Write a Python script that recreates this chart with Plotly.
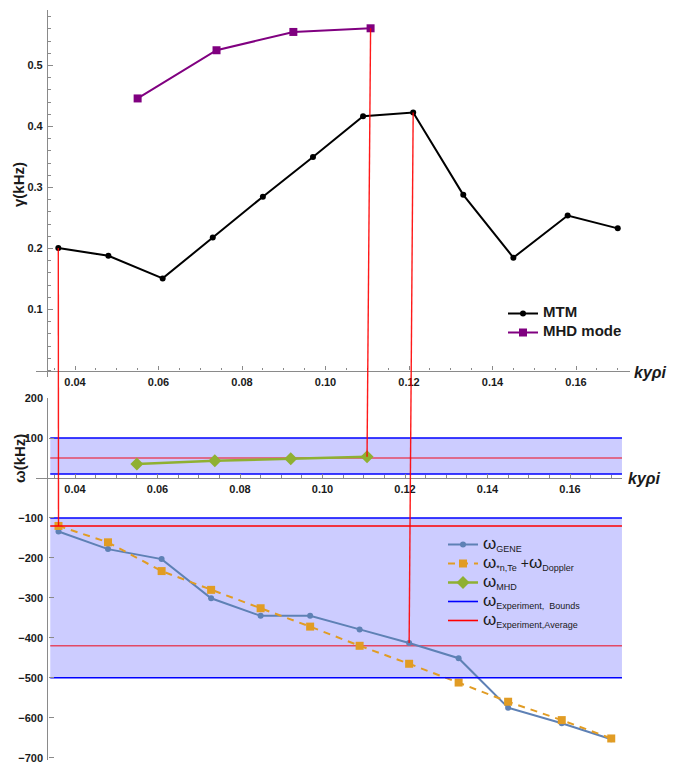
import plotly.graph_objects as go

W, H = 673, 762

# ---------------- data ----------------
ky_mtm = [0.036, 0.048, 0.061, 0.073, 0.085, 0.097, 0.109, 0.121, 0.133, 0.145, 0.158, 0.170]
gamma_mtm = [0.201, 0.188, 0.151, 0.218, 0.285, 0.350, 0.417, 0.423, 0.288, 0.185, 0.254, 0.233]
ky_mhd = [0.055, 0.0739, 0.0923, 0.1108]
gamma_mhd = [0.446, 0.525, 0.555, 0.561]

omega_gene = [-134, -178, -203, -301, -345, -345, -379, -413, -451, -575, -614, -654]
omega_dopp = [-120, -161, -233, -280, -326, -372, -420, -465, -512, -560, -606, -652]
omega_mhd = [35, 43, 48, 53]

exp_bounds = [(10, 100), (-500, -100)]
exp_avg_main = [-120]
exp_avg_other = [50, -420]
band_x = [0.034, 0.1726]

top_xticks = [0.04, 0.06, 0.08, 0.10, 0.12, 0.14, 0.16]
top_yticks = [0.1, 0.2, 0.3, 0.4, 0.5]
bot_yticks = [200, 100, -100, -200, -300, -400, -500, -600, -700]

# ---------------- geometry ----------------
def px_x(p):
    return p / W

def px_y(p):
    return 1 - p / H

TOP_X_DOM = (px_x(36), px_x(630))
TOP_X_RANGE = (0.04 + (36 - 75) / 4175, 0.04 + (630 - 75) / 4175)
TOP_Y_DOM = (px_y(377), px_y(10))
TOP_Y_RANGE = ((370.5 - 377) / 610, (370.5 - 10) / 610)

BOT_X_DOM = (px_x(36), px_x(622))
BOT_X_RANGE = (0.04 + (36 - 75) / 4125, 0.04 + (622 - 75) / 4125)
BOT_Y_DOM = (px_y(760), px_y(398))
BOT_Y_RANGE = ((478 - 760) / 0.3995, (478 - 398) / 0.3995)

Y_AXIS_X = 0.0333


def to_paper(v, rng, dom):
    return dom[0] + (v - rng[0]) / (rng[1] - rng[0]) * (dom[1] - dom[0])


AX_COL = "#8a8a8a"
TICKFONT = dict(family="Liberation Sans", size=11, color="#1a1a1a", weight="bold")

C_GENE = "#5E81B5"
C_DOPP = "#E19C24"
C_MHD = "#8FB032"

fig = go.Figure()

BIG = "<span style='font-size:15px'><b>{}</b></span>"

# ---------------- top panel ----------------
fig.add_trace(go.Scatter(
    x=ky_mtm, y=gamma_mtm, mode="lines+markers", name=BIG.format("MTM"),
    line=dict(color="black", width=2), marker=dict(color="black", size=6, symbol="circle"),
    xaxis="x", yaxis="y", legend="legend", cliponaxis=False))
fig.add_trace(go.Scatter(
    x=ky_mhd, y=gamma_mhd, mode="lines+markers", name=BIG.format("MHD mode"),
    line=dict(color="#800080", width=2), marker=dict(color="#800080", size=8, symbol="square"),
    xaxis="x", yaxis="y", legend="legend", cliponaxis=False))

# ---------------- bottom panel ----------------
for lo, hi in exp_bounds:
    fig.add_trace(go.Scatter(x=band_x, y=[lo, lo], mode="lines", line=dict(width=0),
                             showlegend=False, hoverinfo="skip", xaxis="x2", yaxis="y2"))
    fig.add_trace(go.Scatter(x=band_x, y=[hi, hi], mode="lines", line=dict(width=0),
                             fill="tonexty", fillcolor="rgba(0,0,255,0.2)",
                             showlegend=False, hoverinfo="skip", xaxis="x2", yaxis="y2"))

xs, ys = [], []
for v in exp_avg_other:
    xs += band_x + [None]
    ys += [v, v, None]
fig.add_trace(go.Scatter(x=xs, y=ys, mode="lines", line=dict(color="rgba(235,30,50,0.75)", width=1.6),
                         showlegend=False, hoverinfo="skip", xaxis="x2", yaxis="y2"))

OM = "<span style='font-size:17px'>ω</span>"
SUB = "<sub><span style='font-size:9px'>{}</span></sub>"

fig.add_trace(go.Scatter(
    x=ky_mtm, y=omega_gene, mode="lines+markers", name=OM + SUB.format("GENE"),
    line=dict(color=C_GENE, width=2), marker=dict(color=C_GENE, size=6, symbol="circle"),
    xaxis="x2", yaxis="y2", legend="legend2"))
fig.add_trace(go.Scatter(
    x=ky_mtm, y=omega_dopp, mode="lines+markers",
    name=OM + SUB.format("*n,Te") + "<span style='font-size:14px'> +</span>" + OM + SUB.format("Doppler"),
    line=dict(color=C_DOPP, width=2, dash="7px,6px"), marker=dict(color=C_DOPP, size=8, symbol="square"),
    xaxis="x2", yaxis="y2", legend="legend2"))
fig.add_trace(go.Scatter(
    x=ky_mhd, y=omega_mhd, mode="lines+markers", name=OM + SUB.format("MHD"),
    line=dict(color=C_MHD, width=2.5), marker=dict(color=C_MHD, size=10, symbol="diamond"),
    xaxis="x2", yaxis="y2", legend="legend2"))

xs, ys = [], []
for lo, hi in exp_bounds:
    for v in (hi, lo):
        xs += band_x + [None]
        ys += [v, v, None]
fig.add_trace(go.Scatter(x=xs, y=ys, mode="lines", name=OM + SUB.format("Experiment,  Bounds"),
                         line=dict(color="blue", width=1.6), hoverinfo="skip",
                         xaxis="x2", yaxis="y2", legend="legend2"))
xs, ys = [], []
for v in exp_avg_main:
    xs += band_x + [None]
    ys += [v, v, None]
fig.add_trace(go.Scatter(x=xs, y=ys, mode="lines", name=OM + SUB.format("Experiment,Average"),
                         line=dict(color="red", width=1.6), hoverinfo="skip",
                         xaxis="x2", yaxis="y2", legend="legend2"))

# ---------------- connectors between panels ----------------
connectors = [
    (ky_mtm[0], gamma_mtm[0], omega_dopp[0]),
    (ky_mhd[3], gamma_mhd[3], omega_mhd[3]),
    (ky_mtm[7], gamma_mtm[7], omega_gene[7]),
]
shapes = []
for k, g, w in connectors:
    shapes.append(dict(
        type="line", xref="paper", yref="paper", layer="above",
        x0=to_paper(k, TOP_X_RANGE, TOP_X_DOM), y0=to_paper(g, TOP_Y_RANGE, TOP_Y_DOM),
        x1=to_paper(k, BOT_X_RANGE, BOT_X_DOM), y1=to_paper(w, BOT_Y_RANGE, BOT_Y_DOM),
        line=dict(color="rgba(255,0,0,0.9)", width=1.4)))


def xaxis_cfg(dom, rng, ypos_paper):
    return dict(
        domain=list(dom), range=list(rng), anchor="free", position=ypos_paper,
        automargin=False,
        showline=True, linecolor=AX_COL, linewidth=1.3, showgrid=False, zeroline=False,
        ticks="inside", ticklen=4, tickwidth=1, tickcolor=AX_COL,
        tickvals=top_xticks, ticktext=[f"{v:.2f}" for v in top_xticks],
        tickfont=TICKFONT, ticklabelstandoff=1, ticklabeloverflow="allow",
        minor=dict(ticks="inside", ticklen=2.5, tickcolor=AX_COL, dtick=0.005, tick0=0),
    )


def yaxis_cfg(dom, rng, xpos_paper, tickvals, ticktext, minor):
    d = dict(
        domain=list(dom), range=list(rng), anchor="free", position=xpos_paper,
        automargin=False,
        showline=True, linecolor=AX_COL, linewidth=1.3, showgrid=False, zeroline=False,
        ticks="inside", ticklen=5, tickwidth=1, tickcolor=AX_COL,
        tickvals=tickvals, ticktext=ticktext, tickfont=TICKFONT, ticklabelstandoff=2,
        ticklabeloverflow="allow",
    )
    if minor:
        d["minor"] = dict(ticks="inside", ticklen=3, tickcolor=AX_COL, dtick=0.02, tick0=0)
    return d


fig.update_layout(
    template="none",
    width=W, height=H, margin=dict(l=0, r=0, t=0, b=0, pad=0, autoexpand=False),
    paper_bgcolor="white", plot_bgcolor="rgba(0,0,0,0)",
    font=dict(family="Liberation Sans", color="#1a1a1a"),
    hovermode="closest",
    xaxis=xaxis_cfg(TOP_X_DOM, TOP_X_RANGE, to_paper(0, TOP_Y_RANGE, TOP_Y_DOM)),
    yaxis=yaxis_cfg(TOP_Y_DOM, TOP_Y_RANGE, to_paper(Y_AXIS_X, TOP_X_RANGE, TOP_X_DOM),
                    top_yticks, [f"{v:.1f}" for v in top_yticks], True),
    xaxis2=xaxis_cfg(BOT_X_DOM, BOT_X_RANGE, to_paper(0, BOT_Y_RANGE, BOT_Y_DOM)),
    yaxis2=yaxis_cfg(BOT_Y_DOM, BOT_Y_RANGE, to_paper(Y_AXIS_X, BOT_X_RANGE, BOT_X_DOM),
                     bot_yticks, [str(v).replace("-", "−") for v in bot_yticks], False),
    legend=dict(x=px_x(503), y=px_y(299), xanchor="left", yanchor="top", traceorder="normal",
                bgcolor="rgba(0,0,0,0)", borderwidth=0,
                font=dict(size=9.5, color="#1a1a1a")),
    legend2=dict(x=px_x(443), y=px_y(530), xanchor="left", yanchor="top", traceorder="normal",
                 bgcolor="rgba(0,0,0,0)", borderwidth=0,
                 font=dict(size=12, color="#1a1a1a")),
    shapes=shapes,
    annotations=[
        dict(text="<b>γ(kHz)</b>", x=px_x(19), y=px_y(185), xref="paper", yref="paper",
             xanchor="center", yanchor="middle",
             textangle=-90, showarrow=False, font=dict(size=15)),
        dict(text="<b>ω(kHz)</b>", x=px_x(19), y=px_y(459), xref="paper", yref="paper",
             xanchor="center", yanchor="middle",
             textangle=-90, showarrow=False, font=dict(size=15)),
        dict(text="<b><i>kyρi</i></b>", x=px_x(632), y=px_y(372), xref="paper", yref="paper",
             xanchor="left", yanchor="middle", showarrow=False, font=dict(size=16)),
        dict(text="<b><i>kyρi</i></b>", x=px_x(626), y=px_y(478), xref="paper", yref="paper",
             xanchor="left", yanchor="middle", showarrow=False, font=dict(size=16)),
    ],
)

fig.write_html("out.html")
